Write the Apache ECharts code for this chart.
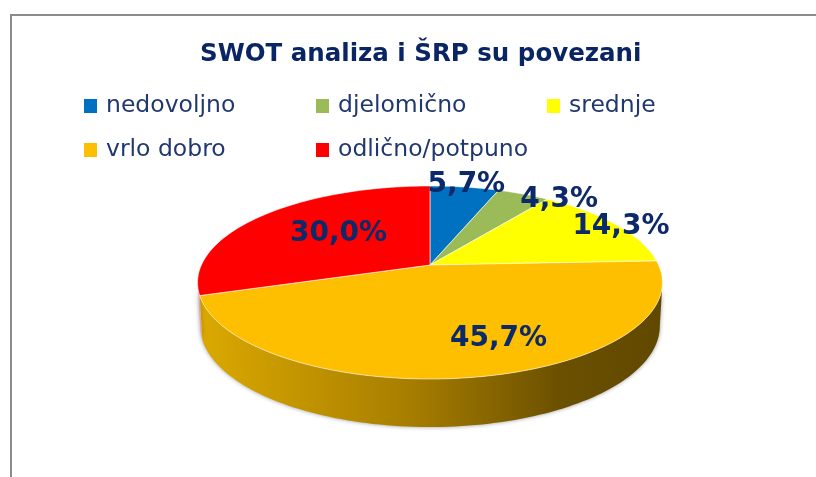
<!DOCTYPE html>
<html>
<head>
<meta charset="utf-8">
<title>SWOT analiza i ŠRP su povezani</title>
<script src="https://cdn.jsdelivr.net/npm/echarts@6/dist/echarts.min.js"></script>
<style>
html, body { margin: 0; padding: 0; background: #fff; }
#main { width: 816px; height: 477px; }
</style>
</head>
<body>
<div id="main"></div>
<script>
var categories = ['nedovoljno', 'djelomično', 'srednje', 'vrlo dobro', 'odlično/potpuno'];
var shares = [5.7, 4.3, 14.3, 45.7, 30.0];

var colors = ['#0070c0', '#9bbb59', '#ffff00', '#fdbf00', '#ff0000'];
var navy = '#0c2a69';
var font = '"DejaVu Sans", sans-serif';

// legend slots, one legend per item so the columns line up
var legendPos = [[84, 94], [316, 94], [547, 94], [84, 138], [316, 138]];
// label shift from the slice midpoint
var labelNudge = [[11, -23], [61, -14], [58, -9], [36, 0], [29, 4]];

// pie is seen in perspective: the apex is not the ellipse centre
var tilt = -0.1813;
function project(angle, r, lower) {
    var u = r * Math.sin(angle);
    var v = -r * Math.cos(angle);
    var den = 1 + tilt * v;
    if (lower) {
        return [430 + 226 * u / den, (41.9 * v + 307.7) / den];
    }
    return [430 + 228.6 * u / den, (45.3 * v + 265) / den];
}

function arc(from, to, lower) {
    var pts = [];
    var steps = Math.max(4, Math.ceil((to - from) * 40));
    for (var i = 0; i <= steps; i++) {
        pts.push(project(from + (to - from) * i / steps, 1, lower));
    }
    return pts;
}

var total = shares.reduce(function (a, b) { return a + b; }, 0);
// only this part of the rim faces the viewer
var frontFrom = Math.acos(tilt);
var frontTo = Math.PI * 2 - frontFrom;

function wallFill(idx) {
    if (idx === 3) {
        return new echarts.graphic.LinearGradient(0, 0, 1, 0, [
            { offset: 0, color: '#dba900' },
            { offset: 0.45, color: '#a87e00' },
            { offset: 0.78, color: '#6b5000' },
            { offset: 1, color: '#604800' }
        ]);
    }
    return '#e6a3a3';
}

function makeRender(idx) {
    return function (params, api) {
        var before = 0;
        for (var i = 0; i < idx; i++) {
            before += shares[i];
        }
        var start = before / total * Math.PI * 2;
        var end = start + api.value(0) / total * Math.PI * 2;
        var mid = (start + end) / 2;
        var top = arc(start, end, false);
        var at = project(mid, 0.7, false);
        var children = [{
            type: 'polygon',
            z2: 10,
            shape: { points: [project(0, 0, false)].concat(top) },
            style: { fill: colors[idx], stroke: 'rgba(255,255,255,0.7)', lineWidth: 0.8 }
        }, {
            type: 'text',
            z2: 20,
            style: {
                x: at[0] + labelNudge[idx][0],
                y: at[1] + labelNudge[idx][1],
                text: api.value(0).toFixed(1).replace('.', ',') + '%',
                align: 'center',
                verticalAlign: 'middle',
                fill: navy,
                font: '600 28px ' + font
            }
        }];
        var wallFrom = Math.max(start, frontFrom);
        var wallTo = Math.min(end, frontTo);
        if (wallTo > wallFrom) {
            children.push({
                type: 'polygon',
                z2: 1,
                shape: { points: arc(wallFrom, wallTo, false).concat(arc(wallFrom, wallTo, true).reverse()) },
                style: {
                    fill: wallFill(idx),
                    shadowBlur: 4,
                    shadowColor: 'rgba(0,0,0,0.4)'
                }
            });
        }
        return { type: 'group', children: children };
    };
}

var chart = echarts.init(document.getElementById('main'), null, { renderer: 'canvas' });

var option = {
    animation: false,
    backgroundColor: '#fff',
    color: colors,
    title: {
        text: 'SWOT analiza i ŠRP su povezani',
        left: 195,
        top: 37,
        textStyle: { color: '#0a2564', fontFamily: font, fontSize: 24.5, fontWeight: 'bold' }
    },
    legend: categories.map(function (name, i) {
        return {
            data: [name],
            left: legendPos[i][0],
            top: legendPos[i][1],
            padding: 0,
            icon: 'rect',
            itemWidth: 13,
            itemHeight: 14,
            selectedMode: false,
            textStyle: {
                color: '#20386f',
                fontFamily: font,
                fontSize: 23.5,
                padding: [0, 0, 0, 4]
            }
        };
    }),
    graphic: [{
        type: 'polyline',
        silent: true,
        shape: { points: [[11, 477], [11, 15], [816, 15]] },
        style: { stroke: '#8c8c8c', lineWidth: 2, fill: null }
    }],
    series: categories.map(function (name, i) {
        return {
            type: 'custom',
            name: name,
            coordinateSystem: 'none',
            silent: true,
            data: [[shares[i]]],
            renderItem: makeRender(i)
        };
    })
};

chart.setOption(option);

window.addEventListener('resize', function () {
    chart.resize();
});
</script>
</body>
</html>
